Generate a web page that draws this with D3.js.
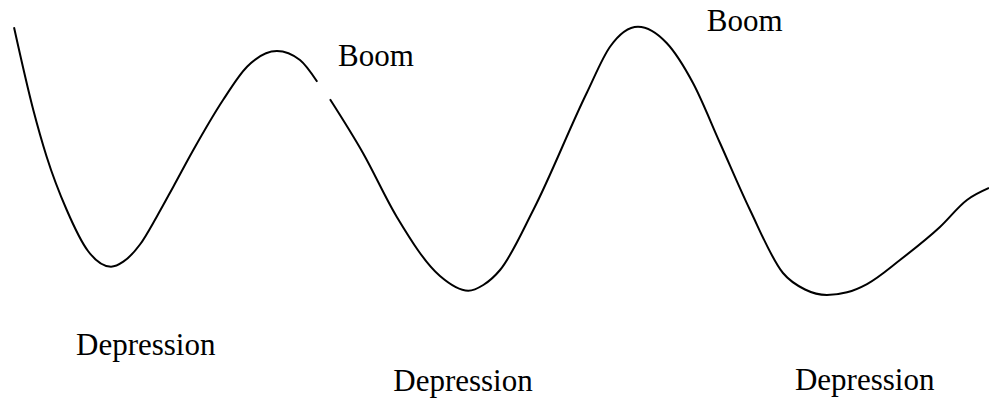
<!DOCTYPE html>
<html>
<head>
<meta charset="utf-8">
<script src="https://cdn.jsdelivr.net/npm/d3@7"></script>
<style>
  html, body { margin: 0; padding: 0; background: #fff; }
  svg { display: block; }
</style>
</head>
<body>
<svg id="chart" width="989" height="400"></svg>
<script>
// Business cycle: economic activity level over time (arbitrary units).
// The curve is drawn in two pieces, broken beneath the first "Boom" label.
const cycleTimeA  = [0, 1.98, 3.35, 5.41, 7.59, 9.95, 11.21, 12.92, 14.64, 16.34, 18.39, 21.44, 23.9, 26.97, 29.33, 31.1];
const cycleLevelA = [97.39, 67.86, 51.18, 32.14, 17.5, 11.89, 13.68, 19.82, 29.75, 40.46, 53.57, 71.43, 83.32, 88.93, 85.71, 77.96];

const cycleTimeB  = [32.41, 35.79, 39.25, 43.69, 46.59, 48.13, 49.85, 53.26, 58.74, 61.13, 64.0, 66.94, 69.64, 72.41, 75.49, 78.87, 81.13, 83.38, 85.44, 87.49, 90.87, 94.97, 97.74, 100];
const cycleLevelB = [71.68, 52.5, 29.75, 8.57, 3.32, 5.36, 10.71, 32.14, 73.93, 90.46, 97.61, 91.79, 77.5, 56.07, 32.14, 9.64, 3.75, 1.79, 2.75, 5.71, 14.29, 26.07, 35.71, 40.0];

// Phase labels, anchored at (time, level) of their left baseline.
const phaseLabels = ["Boom", "Boom", "Depression", "Depression", "Depression"];
const phaseTime   = [33.23, 71.05, 6.36, 38.9, 80.1];
const phaseLevel  = [83.57, 96.07, -19.64, -32.5, -32.14];

const svg = d3.select("#chart");

const x = d3.scaleLinear().domain([0, 100]).range([14, 989]);
const y = d3.scaleLinear().domain([0, 100]).range([300, 20]);

const line = d3.line()
  .x(d => x(d[0]))
  .y(d => y(d[1]))
  .curve(d3.curveMonotoneX);

const pieces = [
  d3.zip(cycleTimeA, cycleLevelA),
  d3.zip(cycleTimeB, cycleLevelB)
];

svg.selectAll("path.cycle")
  .data(pieces)
  .join("path")
  .attr("class", "cycle")
  .attr("d", line)
  .attr("fill", "none")
  .attr("stroke", "#000")
  .attr("stroke-width", 2);

svg.selectAll("text.phase")
  .data(phaseLabels)
  .join("text")
  .attr("class", "phase")
  .attr("x", (d, i) => x(phaseTime[i]))
  .attr("y", (d, i) => y(phaseLevel[i]))
  .attr("font-family", "'Liberation Serif', 'Times New Roman', serif")
  .attr("font-size", 31)
  .attr("fill", "#000")
  .text(d => d);
</script>
</body>
</html>
